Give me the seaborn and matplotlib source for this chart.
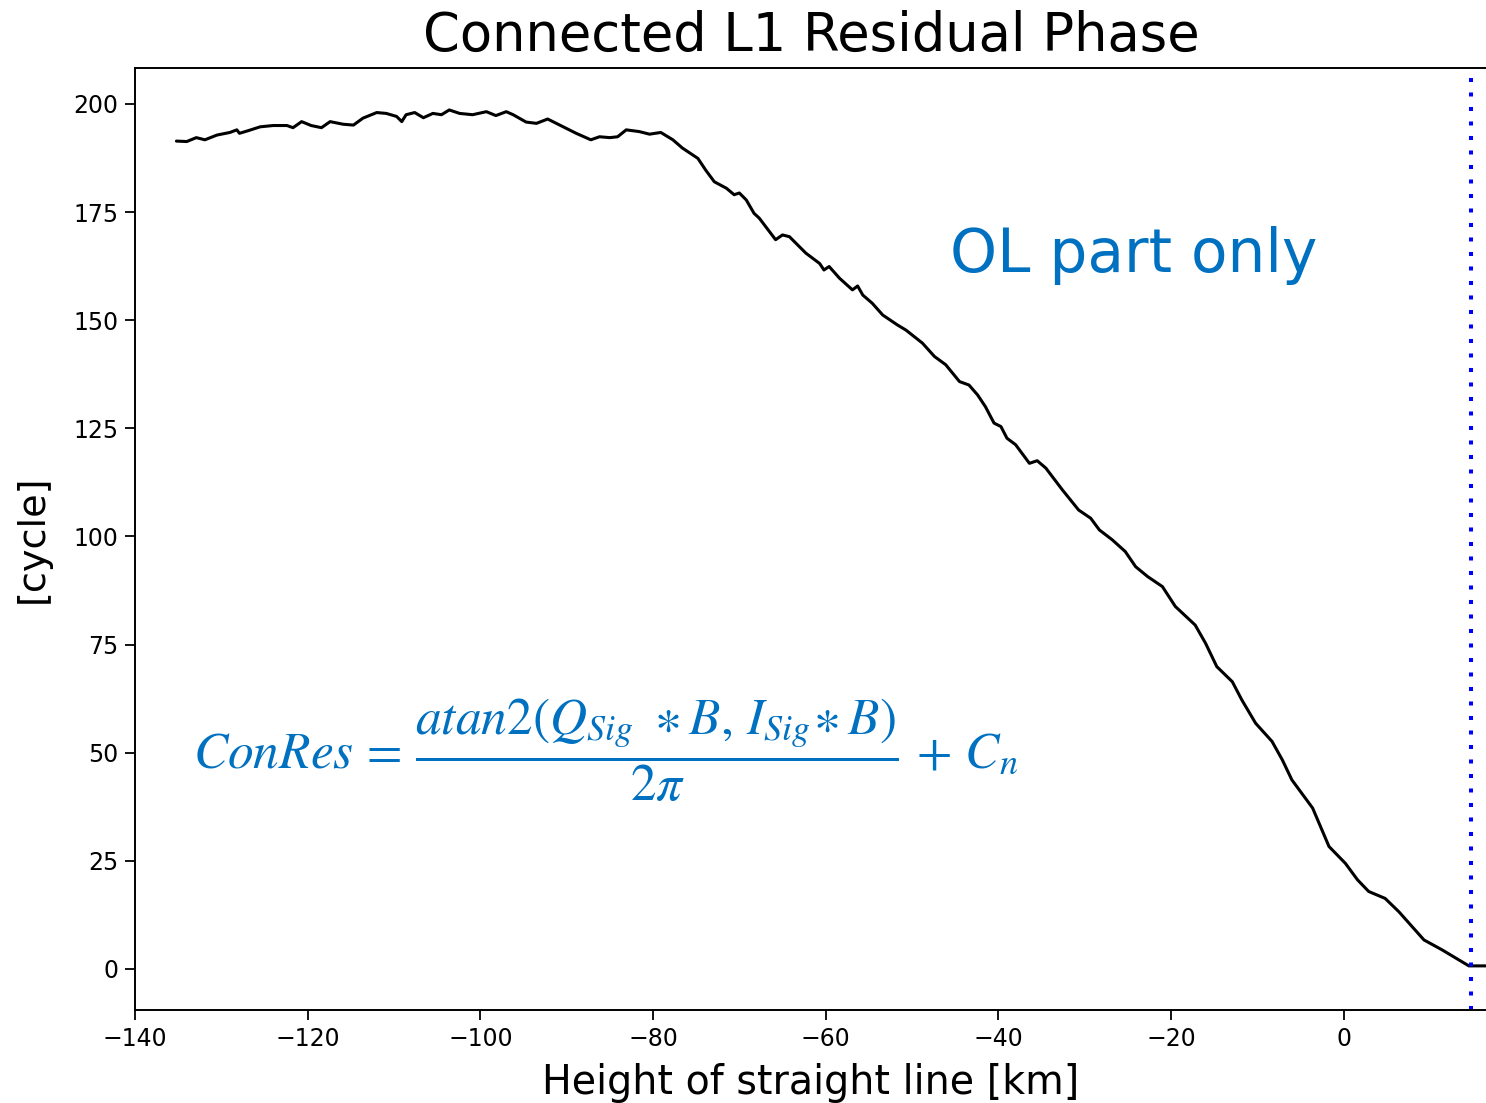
import matplotlib
matplotlib.use("Agg")
import matplotlib.pyplot as plt
import seaborn as sns

# Connected residual phase along the straight-line height (km -> cycles)
height_km = [
    -135.2, -134.0, -132.9, -131.9, -130.5, -129.0, -128.2, -127.9, -126.9, -125.5,
    -124.0, -122.4, -121.7, -120.7, -119.6, -118.4, -117.4, -115.9, -114.7, -113.6,
    -112.0, -110.9, -109.7, -109.1, -108.6, -107.6, -106.6, -105.5, -104.5, -103.6,
    -102.4, -100.9, -99.3, -98.2, -97.0, -96.2, -94.7, -93.5, -92.2, -90.8,
    -88.9, -87.2, -86.2, -85.0, -84.1, -83.1, -81.6, -80.4,
    -79.1, -77.7, -76.6, -74.8, -73.9, -72.9, -71.5, -70.6, -70.0, -69.2,
    -68.3, -67.7, -65.8, -65.0, -64.2, -62.3, -60.7, -60.2, -59.6, -58.4,
    -56.9, -56.3, -55.7, -54.6, -53.4, -51.7,
    -50.7, -48.8, -47.4, -46.1, -44.5, -43.4, -42.4, -41.5, -40.5, -39.7,
    -39.0, -38.0, -36.4, -35.5, -34.5, -32.6, -30.7, -29.3, -28.3, -26.8,
    -25.3, -24.1, -22.7,
    -21.0, -19.5, -17.2, -16.0, -14.7, -12.9, -11.8, -10.2, -8.3, -7.1,
    -6.0, -3.6, -1.7, 0.2, 1.6, 2.9, 4.8, 6.4, 9.3, 11.4,
    14.5, 16.8,
]
residual_cycles = [
    191.4, 191.3, 192.2, 191.7, 192.8, 193.4, 194.0, 193.2, 193.8, 194.7,
    195.0, 195.0, 194.5, 195.9, 195.0, 194.5, 195.9, 195.3, 195.1, 196.7,
    198.0, 197.8, 197.1, 195.9, 197.5, 198.0, 196.8, 197.8, 197.5, 198.6,
    197.8, 197.5, 198.2, 197.3, 198.2, 197.5, 195.8, 195.5, 196.5, 195.1,
    193.2, 191.7, 192.4, 192.2, 192.4, 194.0, 193.6, 193.0,
    193.4, 191.7, 189.8, 187.4, 184.7, 182.0, 180.5, 179.0, 179.4, 177.8,
    174.7, 173.6, 168.6, 169.7, 169.3, 165.5, 163.1, 161.6, 162.4, 159.7,
    157.0, 157.9, 155.8, 153.9, 151.2, 148.9,
    147.7, 144.7, 141.6, 139.7, 135.8, 135.0, 132.7, 130.0, 126.2, 125.4,
    122.7, 121.2, 116.9, 117.5, 115.8, 110.8, 106.1, 104.2, 101.5, 99.2,
    96.5, 93.0, 90.7,
    88.4, 83.8, 79.5, 75.3, 69.9, 66.4, 62.2, 56.8, 52.6, 48.3,
    43.7, 37.2, 28.3, 24.4, 20.6, 17.9, 16.3, 13.2, 6.7, 4.4,
    0.7, 0.7,
]

# End of the open-loop section
ol_boundary_km = 14.7

x_ticks = [-140, -120, -100, -80, -60, -40, -20, 0]
y_ticks = [0, 25, 50, 75, 100, 125, 150, 175, 200]

title_text = "Connected L1 Residual Phase"
x_label = "Height of straight line [km]"
y_label = "[cycle]"
note_text = "OL part only"
formula_text = (r"$ConRes\,=\,\dfrac{atan2\left(Q_{Sig}\ \ast B,\, I_{Sig}\!\ast B\right)}{2\pi}"
                r"\,+\,C_n$")

sns.set_style("ticks")
plt.rcParams["font.family"] = ["DejaVu Sans"]
plt.rcParams["mathtext.fontset"] = "stix"
plt.rcParams["axes.edgecolor"] = "black"
plt.rcParams["xtick.color"] = "black"
plt.rcParams["ytick.color"] = "black"
plt.rcParams["text.color"] = "black"
plt.rcParams["axes.labelcolor"] = "black"

W, H = 1486, 1103
fig = plt.figure(figsize=(W / 100, H / 100), dpi=100)
left, right, top, bottom = 135, 1487, 68, 1010
ax = fig.add_axes([left / W, 1 - bottom / H, (right - left) / W, (bottom - top) / H])

sns.lineplot(x=height_km, y=residual_cycles, sort=False, color="black",
             linewidth=2.2, ax=ax)
ax.axvline(ol_boundary_km, color="blue", linewidth=2.9,
           linestyle=(0, (1, 2.6)), dash_capstyle="butt")

ax.set_xlim(-140, 16.6)
ax.set_ylim(-9.5, 208.3)
ax.set_xticks(x_ticks)
ax.set_yticks(y_ticks)
ax.tick_params(axis="both", labelsize=17, length=7, width=1.3, pad=5)
for s in ax.spines.values():
    s.set_linewidth(1.4)
    s.set_color("black")

ax.set_title(title_text, fontsize=38, pad=12)
ax.set_xlabel(x_label, fontsize=28.5, labelpad=9)
ax.set_ylabel(y_label, fontsize=27.5, labelpad=16)

blue = "#0070C0"
fig.text(950 / W, 1 - 272 / H, note_text, fontsize=43, color=blue,
         ha="left", va="baseline")
fig.text(193 / W, 1 - 768 / H, formula_text, fontsize=37, color=blue,
         ha="left", va="baseline")

fig.savefig("out.png", dpi=100)
